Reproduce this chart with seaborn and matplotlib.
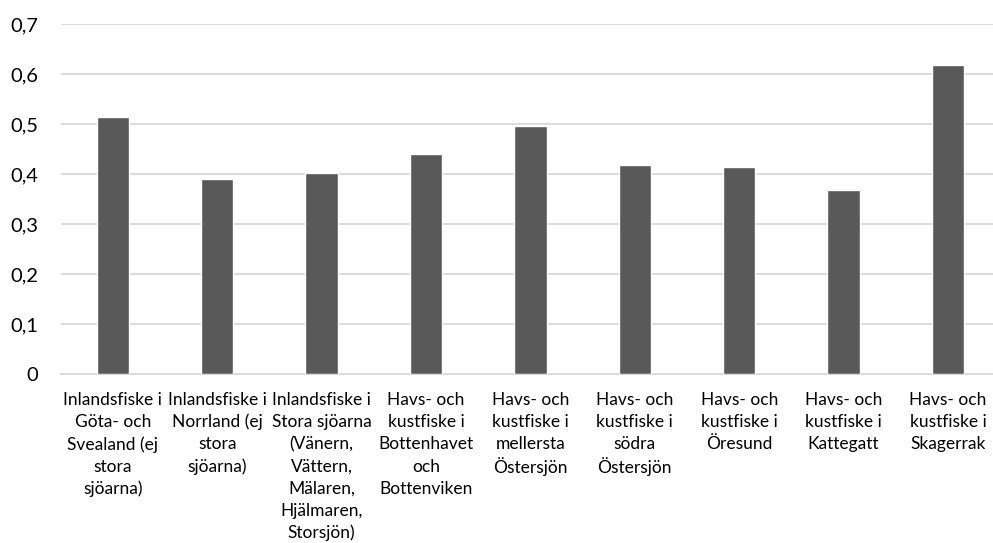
import matplotlib
matplotlib.use("Agg")
import matplotlib.pyplot as plt
import pandas as pd
import seaborn as sns

# ==========================================
# DATA
# ==========================================
categories = [
    "Inlandsfiske i\nGöta- och\nSvealand (ej\nstora\nsjöarna)",
    "Inlandsfiske i\nNorrland (ej\nstora\nsjöarna)",
    "Inlandsfiske i\nStora sjöarna\n(Vänern,\nVättern,\nMälaren,\nHjälmaren,\nStorsjön)",
    "Havs- och\nkustfiske i\nBottenhavet\noch\nBottenviken",
    "Havs- och\nkustfiske i\nmellersta\nÖstersjön",
    "Havs- och\nkustfiske i\nsödra\nÖstersjön",
    "Havs- och\nkustfiske i\nÖresund",
    "Havs- och\nkustfiske i\nKattegatt",
    "Havs- och\nkustfiske i\nSkagerrak",
]
values = [0.515, 0.391, 0.403, 0.440, 0.497, 0.419, 0.415, 0.369, 0.619]
y_ticks = [0, 0.1, 0.2, 0.3, 0.4, 0.5, 0.6, 0.7]
y_tick_labels = ["0", "0,1", "0,2", "0,3", "0,4", "0,5", "0,6", "0,7"]

df = pd.DataFrame({"kategori": categories, "varde": values})

# ==========================================
# PLOT
# ==========================================
sns.set_style("white")
plt.rcParams["font.family"] = ["Lato", "DejaVu Sans"]

W, H = 993, 543
AX_H = 350  # plot area height in px
fig = plt.figure(figsize=(W / 100, H / 100), dpi=100)
# plot area in pixels: left 60.6, width 939.6 (runs past the right edge), top 24.3, bottom 374.3
ax = fig.add_axes([60.6 / W, (H - 374.3) / H, 939.6 / W, AX_H / H])

sns.barplot(data=df, x="kategori", y="varde", color="#595959", width=0.31,
            saturation=1, ax=ax, zorder=3)

ax.set_ylim(0, 0.7)
ax.set_xlim(-0.5, 8.5)
ax.set_yticks(y_ticks)
ax.set_yticklabels(y_tick_labels, fontsize=14.5)
ax.tick_params(axis="y", length=0, pad=16, colors="#000000")
ax.set_xlabel("")
ax.set_ylabel("")

# category labels: one text per line so every line gets the same spacing
ax.set_xticks(range(len(categories)))
ax.set_xticklabels([])
ax.tick_params(axis="x", length=0)
first_line = -25.7 / AX_H
line_step = 22.2 / AX_H
for i, label in enumerate(categories):
    for j, line in enumerate(label.split("\n")):
        ax.text(i, first_line - j * line_step, line, transform=ax.get_xaxis_transform(),
                ha="center", va="center", fontsize=12.5, color="#000000", clip_on=False)

ax.grid(axis="y", color="#d9d9d9", linewidth=1.3, zorder=0)
for side in ["top", "right", "left"]:
    ax.spines[side].set_visible(False)
ax.spines["bottom"].set_color("#d9d9d9")
ax.spines["bottom"].set_linewidth(1.3)

fig.savefig("out.png", dpi=100)
